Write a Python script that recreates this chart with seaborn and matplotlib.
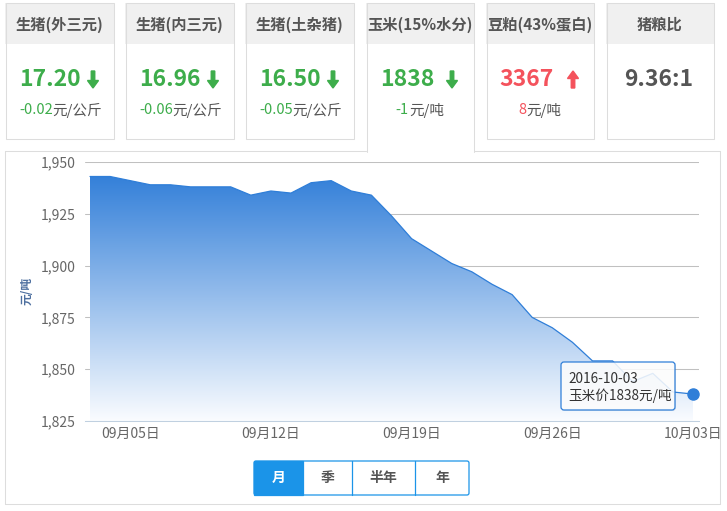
import numpy as np
import pandas as pd
import matplotlib
matplotlib.use("Agg")
import matplotlib.pyplot as plt
import matplotlib.dates as mdates
from matplotlib.patches import Rectangle, FancyBboxPatch, FancyArrow
from matplotlib.ticker import FuncFormatter
import seaborn as sns

# ---------------- data ----------------
dates = pd.date_range("2016-09-03", "2016-10-03", freq="D")
corn_price = [1943, 1943, 1941, 1939, 1939, 1938, 1938, 1938, 1934, 1936,
              1935, 1940, 1941, 1936, 1934, 1924, 1913, 1907, 1901, 1897,
              1891, 1886, 1875, 1870, 1863, 1854, 1854, 1844, 1848, 1839, 1838]
tick_dates = ["2016-09-05", "2016-09-12", "2016-09-19", "2016-09-26", "2016-10-03"]
tick_labels = ["09月05日", "09月12日", "09月19日", "09月26日", "10月03日"]
y_ticks = [1825, 1850, 1875, 1900, 1925, 1950]
y_label = "元/吨"

card_titles = ["生猪(外三元)", "生猪(内三元)", "生猪(土杂猪)", "玉米(15%水分)", "豆粕(43%蛋白)", "猪粮比"]
card_values = ["17.20", "16.96", "16.50", "1838", "3367", "9.36:1"]
card_changes = ["-0.02", "-0.06", "-0.05", "-1", "8", ""]
card_units = ["元/公斤", "元/公斤", "元/公斤", "元/吨", "元/吨", ""]
card_trend = ["down", "down", "down", "down", "up", None]
range_buttons = ["月", "季", "半年", "年"]
tooltip_date = "2016-10-03"
tooltip_text = "玉米价1838元/吨"

# ---------------- style ----------------
sns.set_theme(style="white")
plt.rcParams['font.family'] = ['Noto Sans CJK SC', 'DejaVu Sans']

W, H = 727, 511
fig = plt.figure(figsize=(W / 100, H / 100), dpi=100)
fig.patch.set_facecolor("white")

GREEN = "#3dad4b"
RED = "#f4525c"
GRAY = "#555555"
BORDER = "#dddddd"
BLUE = "#2f7ed8"
BTN = "#1b94e8"


def fax(x0, y0, x1, y1):
    return [x0 / W, 1 - y1 / H, (x1 - x0) / W, (y1 - y0) / H]


# background layer (pixel coordinates)
bg = fig.add_axes([0, 0, 1, 1], zorder=0)
bg.set_xlim(0, W)
bg.set_ylim(H, 0)
bg.axis("off")

lw_px = 0.75
# chart panel border (top has a gap under the selected card)
bg.plot([4.5, 4.5], [151.5, 504.5], color=BORDER, lw=lw_px)
bg.plot([719.5, 719.5], [151.5, 504.5], color=BORDER, lw=lw_px)
bg.plot([4.5, 719.5], [504.5, 504.5], color=BORDER, lw=lw_px)
bg.plot([4.5, 366], [151.5, 151.5], color=BORDER, lw=lw_px)
bg.plot([474, 719.5], [151.5, 151.5], color=BORDER, lw=lw_px)

card_x = [(5, 114), (125, 234), (245, 354), (366, 474), (486, 594), (606, 714)]
value_cx = [50, 170, 290, 407, 526.5, 659]
arrow_x = [93, 213, 333, 452, 573, None]
change_x = [52.7, 172.7, 292.7, 409, 526, None]

for i, (x0, x1) in enumerate(card_x):
    selected = (i == 3)
    bottom = 152 if selected else 140
    bg.add_patch(Rectangle((x0, 3), x1 - x0, bottom - 3, facecolor="white",
                           edgecolor="none", zorder=1))
    bg.add_patch(Rectangle((x0, 3), x1 - x0, 41, facecolor="#f0f0f0",
                           edgecolor="none", zorder=2))
    if selected:
        bg.plot([x0 + 0.5, x0 + 0.5, x1 - 0.5, x1 - 0.5], [bottom, 3.5, 3.5, bottom],
                color=BORDER, lw=lw_px, zorder=3)
    else:
        bg.add_patch(Rectangle((x0 + 0.5, 3.5), x1 - x0 - 1, bottom - 4,
                               facecolor="none", edgecolor=BORDER, lw=lw_px, zorder=3))
    bg.text((x0 + x1) / 2, 25, card_titles[i], ha="center", va="center",
            fontsize=11, fontweight="bold", color=GRAY, zorder=4)
    trend = card_trend[i]
    vcol = GREEN if trend == "down" else (RED if trend == "up" else GRAY)
    bg.text(value_cx[i], 79, card_values[i], ha="center", va="center",
            fontsize=16.5, fontweight="bold", color=vcol, zorder=4)
    if trend is not None:
        if trend == "down":
            arr = FancyArrow(arrow_x[i], 71, 0, 17, width=3.5, head_width=11,
                             head_length=7.5, length_includes_head=True,
                             color=GREEN, zorder=4)
        else:
            arr = FancyArrow(arrow_x[i], 88, 0, -17, width=3.5, head_width=11,
                             head_length=7.5, length_includes_head=True,
                             color=RED, zorder=4)
        bg.add_patch(arr)
        bg.text(change_x[i], 110, card_changes[i], ha="right", va="center",
                fontsize=10.5, color=vcol, zorder=4)
        bg.text(change_x[i], 110, card_units[i], ha="left", va="center",
                fontsize=10.5, color=GRAY, zorder=4)

bg.text(27, 291, y_label, rotation=90, ha="center", va="center",
        fontsize=8.5, fontweight="bold", color="#4d6f9f")

# ---------------- chart ----------------
ax = fig.add_axes(fax(85, 162, 699, 421), zorder=2)
ax.set_facecolor("none")

sns.lineplot(x=dates, y=corn_price, ax=ax, color=BLUE, linewidth=0.9, zorder=3)

poly = ax.fill_between(dates, corn_price, y_ticks[0], color="none", lw=0)
xnum = mdates.date2num(dates)
top_c = np.array([52, 128, 217]) / 255
bot_c = np.array([250, 252, 255]) / 255
t = np.linspace(0, 1, 256)[:, None]
img = (top_c[None, :] * (1 - t) + bot_c[None, :] * t)[:, None, :]
im = ax.imshow(img, extent=[xnum[0], xnum[-1], y_ticks[0], max(corn_price)],
               aspect="auto", origin="upper", zorder=1, interpolation="bilinear")
im.set_clip_path(poly.get_paths()[0], transform=ax.transData)

ax.plot(dates[-1:], corn_price[-1:], "o", ms=8, color=BLUE, clip_on=False, zorder=5)

px_per_day = (693 - 90) / 30
ax.set_xlim(xnum[0] - 5 / px_per_day, xnum[-1] + 6 / px_per_day)
ax.set_ylim(y_ticks[0], y_ticks[-1])
ax.set_yticks(y_ticks)
ax.yaxis.set_major_formatter(FuncFormatter(lambda v, p: f"{int(v):,}"))
ax.yaxis.grid(True, color="#c0c0c0", lw=0.75)
ax.xaxis.grid(False)
ax.set_xticks(mdates.date2num(pd.to_datetime(tick_dates)))
ax.set_xticklabels(tick_labels)
for s in ["left", "right", "top"]:
    ax.spines[s].set_visible(False)
ax.spines["bottom"].set_color("#c0d0e0")
ax.spines["bottom"].set_linewidth(0.75)
ax.tick_params(axis="y", length=0, pad=6.5, labelsize=10, labelcolor="#666666")
ax.tick_params(axis="x", length=3.6, width=0.75, color="#c0d0e0", pad=1,
               labelsize=10, labelcolor="#666666")
ax.set_xlabel("")
ax.set_ylabel("")

# ---------------- overlay: tooltip & buttons ----------------
top = fig.add_axes([0, 0, 1, 1], zorder=10)
top.set_facecolor("none")
top.set_xlim(0, W)
top.set_ylim(H, 0)
top.axis("off")

top.add_patch(FancyBboxPatch((562, 363), 114, 48, boxstyle="round,pad=0,rounding_size=3",
                             facecolor=(0, 0, 0, 0.06), edgecolor="none"))
top.add_patch(FancyBboxPatch((561, 362), 114, 48, boxstyle="round,pad=0,rounding_size=3",
                             facecolor=(1, 1, 1, 0.85), edgecolor=BLUE, lw=0.9))
top.text(568, 379, tooltip_date, ha="left", va="center", fontsize=9.8, color="#333333")
top.text(568, 396, tooltip_text, ha="left", va="center", fontsize=9.8, color="#333333")

bx = [254, 303, 352, 415, 469]
by0, by1 = 461, 495
top.add_patch(FancyBboxPatch((bx[0], by0), bx[-1] - bx[0], by1 - by0,
                             boxstyle="round,pad=0,rounding_size=2",
                             facecolor="white", edgecolor=BTN, lw=0.9))
top.add_patch(Rectangle((bx[0], by0), bx[1] - bx[0], by1 - by0, facecolor=BTN,
                        edgecolor=BTN, lw=0.9))
for xx in bx[2:4]:
    top.plot([xx, xx], [by0, by1], color=BTN, lw=0.9)
for i, lab in enumerate(range_buttons):
    top.text((bx[i] + bx[i + 1]) / 2, (by0 + by1) / 2, lab, ha="center", va="center",
             fontsize=10, fontweight="bold", color="white" if i == 0 else GRAY)

fig.savefig("out.png", dpi=100)
